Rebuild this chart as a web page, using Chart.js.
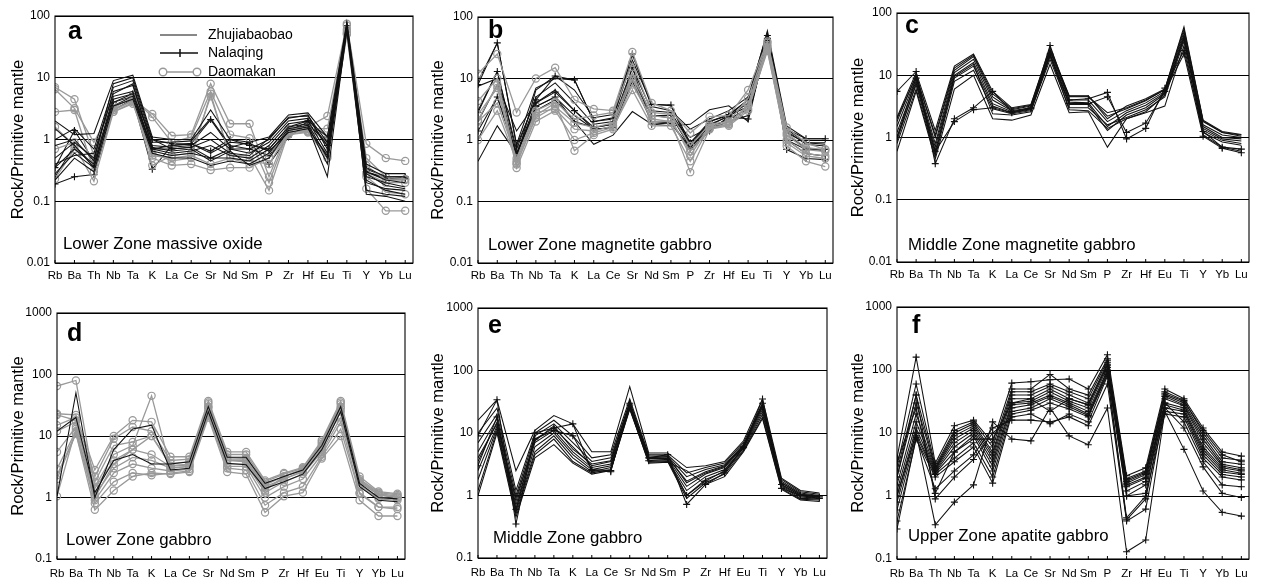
<!DOCTYPE html>
<html>
<head>
<meta charset="utf-8">
<script src="https://cdn.jsdelivr.net/npm/chart.js@4"></script>
<style>
body { margin: 0; background: #fff; }
#wrap { position: relative; width: 1261px; height: 579px; }
canvas { position: absolute; }
</style>
</head>
<body>
<div id="wrap">
  <canvas id="pa" width="420" height="290" style="left:0;top:0"></canvas>
  <canvas id="pb" width="420" height="290" style="left:420px;top:0"></canvas>
  <canvas id="pc" width="420" height="290" style="left:840px;top:0"></canvas>
  <canvas id="pd" width="420" height="290" style="left:0;top:290px"></canvas>
  <canvas id="pe" width="420" height="290" style="left:420px;top:290px"></canvas>
  <canvas id="pf" width="420" height="290" style="left:840px;top:290px"></canvas>
</div>
<script>
// element order on the x axis
var elements = ['Rb', 'Ba', 'Th', 'Nb', 'Ta', 'K', 'La', 'Ce', 'Sr', 'Nd', 'Sm', 'P', 'Zr', 'Hf', 'Eu', 'Ti', 'Y', 'Yb', 'Lu'];
var yTicksUpper = [0.01, 0.1, 1, 10, 100];
var yTicksLower = [0.1, 1, 10, 100, 1000];

// a - Lower Zone massive oxide
var aZhujiabaobao = [
  [2.0, 1.2, 1.25, 9, 11, 1.1, 1.0, 1.0, 3.0, 1.0, 0.9, 1.1, 2.5, 2.7, 1.1, 80, 0.4, 0.28, 0.28],
  [1.0, 1.5, 0.7, 7, 9, 0.9, 0.9, 0.95, 2.2, 0.8, 0.7, 1.0, 2.3, 2.4, 0.9, 75, 0.35, 0.25, 0.25],
  [0.5, 0.9, 0.5, 6, 7.5, 0.8, 0.75, 0.8, 1.3, 0.7, 0.6, 0.9, 2.0, 2.2, 0.8, 70, 0.3, 0.22, 0.2],
  [0.35, 0.7, 0.4, 5, 6, 0.7, 0.6, 0.65, 0.8, 0.55, 0.5, 0.8, 1.8, 2.0, 0.6, 65, 0.25, 0.2, 0.17],
  [0.28, 0.6, 0.35, 4, 5, 0.65, 0.55, 0.6, 0.5, 0.5, 0.45, 0.7, 1.6, 1.8, 0.5, 60, 0.2, 0.16, 0.15],
  [0.22, 0.5, 0.3, 3.5, 4.5, 0.6, 0.5, 0.5, 0.38, 0.45, 0.4, 0.6, 1.5, 1.7, 0.4, 58, 0.15, 0.13, 0.12],
  [0.8, 1.0, 0.45, 8, 10, 1.0, 0.7, 0.75, 1.0, 0.6, 0.55, 1.05, 2.2, 2.5, 0.7, 72, 0.13, 0.12, 0.1],
  [0.4, 0.55, 0.6, 5.5, 8, 0.75, 0.65, 0.7, 0.45, 0.65, 0.38, 0.5, 1.4, 1.6, 0.25, 62, 0.28, 0.18, 0.16],
  [1.5, 0.8, 0.35, 4.5, 5.5, 0.7, 0.8, 0.85, 0.6, 0.9, 0.85, 0.65, 1.3, 1.5, 0.55, 68, 0.22, 0.15, 0.13]
];
var aNalaqing = [
  [0.19, 0.25, 0.27, 3.0, 4.5, 0.33, 0.8, 0.85, 2.1, 0.75, 0.9, 0.4, 1.1, 1.8, 0.9, 70, 0.3, 0.24, 0.24],
  [0.35, 1.4, 0.45, 4.0, 5.5, 1.0, 0.85, 0.85, 0.65, 1.0, 0.8, 0.7, 1.6, 2.0, 1.1, 65, 0.33, 0.25, 0.25],
  [0.25, 0.8, 0.38, 3.5, 5.0, 0.7, 0.7, 0.75, 0.5, 0.7, 0.7, 0.55, 1.4, 1.9, 0.8, 62, 0.3, 0.23, 0.23]
];
var aDaomakan = [
  [6.5, 3.2, 0.9, 3.5, 4.5, 2.6, 1.15, 1.2, 8.0, 1.8, 1.8, 0.25, 1.5, 1.6, 2.4, 75, 0.85, 0.5, 0.45],
  [7.0, 4.5, 0.55, 3.2, 4.8, 2.3, 0.9, 1.1, 6.0, 1.2, 1.05, 0.2, 1.4, 1.5, 1.5, 70, 0.5, 0.25, 0.23],
  [2.8, 3.0, 0.3, 3.0, 4.2, 0.38, 0.55, 0.6, 5.0, 0.55, 0.55, 0.15, 1.3, 1.4, 1.0, 60, 0.25, 0.14, 0.13],
  [1.6, 0.8, 0.21, 2.8, 4.0, 0.5, 0.38, 0.4, 0.32, 0.35, 0.35, 0.5, 1.2, 1.3, 0.5, 52, 0.16, 0.07, 0.07],
  [0.7, 0.9, 0.5, 3.0, 4.3, 0.6, 0.45, 0.5, 5.5, 0.5, 0.45, 0.4, 1.3, 1.35, 0.6, 55, 0.38, 0.22, 0.22],
  [0.23, 0.7, 0.4, 2.8, 3.8, 0.55, 0.5, 0.55, 0.4, 0.5, 0.4, 0.6, 1.2, 1.35, 0.55, 50, 0.28, 0.2, 0.2]
];

// b - Lower Zone magnetite gabbro
var bZhujiabaobao = [
  [0.45, 1.7, 0.6, 3.0, 4.5, 2.0, 0.85, 1.2, 2.9, 1.8, 1.7, 1.8, 3.1, 3.6, 2.0, 45, 1.3, 0.9, 0.9],
  [9.0, 38, 0.85, 7.0, 10, 9.5, 2.0, 2.3, 20, 3.8, 3.6, 0.8, 2.0, 2.5, 4.5, 60, 1.7, 1.05, 1.05],
  [3.0, 13, 0.7, 5.0, 8.5, 4.0, 1.8, 2.0, 15, 3.0, 2.8, 0.9, 1.8, 2.4, 4.0, 50, 1.4, 0.85, 0.8],
  [2.0, 8, 1.4, 4.0, 6.5, 3.0, 1.6, 1.8, 12, 2.5, 2.3, 1.1, 1.6, 2.2, 3.2, 40, 1.2, 0.75, 0.65],
  [1.0, 5, 0.6, 3.5, 5.0, 2.5, 1.5, 1.6, 9, 2.0, 1.9, 0.75, 1.5, 2.0, 2.5, 35, 1.0, 0.6, 0.55],
  [7.5, 10, 0.5, 6.5, 11, 6.5, 2.3, 2.6, 25, 3.5, 3.0, 1.5, 2.2, 3.0, 5.0, 55, 1.5, 0.9, 0.85]
];
var bNalaqing = [
  [8.0, 38, 0.8, 4.5, 11, 9.5, 2.0, 2.2, 25, 3.8, 3.7, 0.9, 2.0, 2.6, 4.5, 50, 1.5, 1.05, 1.05],
  [2.8, 13, 0.6, 4.0, 6.0, 3.0, 1.5, 1.6, 15, 1.8, 1.9, 0.7, 1.4, 2.4, 2.2, 45, 0.7, 0.5, 0.48],
  [1.4, 5, 0.55, 3.5, 5.0, 2.0, 1.6, 1.8, 10, 2.5, 2.5, 0.75, 1.7, 2.5, 3.5, 42, 1.0, 0.7, 0.7]
];
var bDaomakan = [
  [12, 25, 2.8, 10, 15, 4.5, 3.2, 3.0, 27, 4.0, 3.0, 1.3, 2.4, 2.5, 6.5, 40, 1.6, 0.9, 0.7],
  [4.3, 10, 0.4, 2.5, 4.0, 0.67, 1.2, 1.5, 8, 2.2, 2.0, 0.3, 1.5, 1.7, 3.0, 30, 0.8, 0.45, 0.37],
  [2.1, 8, 0.35, 2.0, 3.0, 1.0, 1.3, 1.6, 6.5, 1.7, 1.7, 0.45, 1.6, 1.8, 3.2, 28, 0.9, 0.55, 0.5],
  [2.6, 7, 0.42, 2.3, 3.5, 1.9, 1.6, 1.9, 12, 2.5, 2.3, 0.55, 1.7, 1.9, 3.5, 33, 1.2, 0.7, 0.65],
  [1.0, 3, 0.45, 2.8, 3.2, 1.5, 1.4, 1.7, 10, 2.0, 2.0, 0.65, 1.5, 1.8, 3.8, 35, 1.0, 0.6, 0.55],
  [2.0, 4, 0.5, 3.0, 4.2, 2.2, 2.5, 2.8, 18, 2.8, 2.6, 0.8, 1.8, 2.0, 4.8, 38, 1.3, 0.75, 0.7]
];

// c - Middle Zone magnetite gabbro
var cPlain = [
  [2.1, 11, 1.3, 14, 22, 5.5, 3.0, 3.4, 28, 4.7, 4.7, 2.0, 3.2, 4.2, 6.0, 60, 1.9, 1.25, 1.12],
  [1.8, 10, 1.0, 12, 20, 4.5, 2.8, 3.2, 25, 4.5, 4.5, 2.5, 3.0, 4.0, 5.8, 50, 1.8, 1.2, 1.05],
  [1.5, 9, 0.8, 11, 18, 4.0, 2.7, 3.0, 24, 4.0, 4.0, 1.8, 2.7, 3.6, 5.5, 45, 1.6, 1.1, 1.0],
  [1.2, 8, 0.7, 10, 16, 3.5, 2.6, 2.9, 22, 3.7, 3.6, 1.5, 2.5, 3.3, 5.2, 40, 1.5, 1.0, 0.95],
  [1.0, 7, 0.55, 9, 14, 3.2, 2.5, 2.8, 20, 3.4, 3.4, 1.3, 2.3, 3.0, 5.0, 38, 1.4, 0.95, 0.88],
  [0.8, 6, 0.5, 8, 12, 2.9, 2.4, 2.7, 18, 3.0, 3.0, 1.6, 2.1, 2.8, 4.5, 35, 1.3, 0.9, 0.8],
  [0.6, 5.5, 0.45, 6, 10, 2.0, 1.9, 2.3, 15, 2.5, 2.6, 0.7, 2.0, 2.5, 3.2, 30, 1.1, 0.7, 0.6],
  [2.0, 9.5, 1.1, 13, 21, 5.0, 2.9, 3.3, 26, 4.6, 4.6, 2.2, 2.9, 3.9, 5.9, 55, 1.85, 1.2, 1.1],
  [0.9, 7.5, 0.6, 9.5, 15, 2.4, 2.3, 2.6, 21, 2.8, 2.7, 1.4, 2.0, 2.6, 4.8, 42, 1.2, 0.85, 0.75]
];
var cCross = [
  [5.5, 11.5, 0.38, 2.0, 3.0, 5.5, 2.6, 3.0, 30, 4.0, 4.2, 5.3, 0.95, 1.4, 6.2, 25, 1.25, 0.7, 0.65],
  [1.0, 9, 0.6, 1.8, 2.8, 3.0, 2.5, 2.9, 22, 3.5, 3.5, 4.5, 1.2, 1.7, 5.5, 22, 1.05, 0.67, 0.57]
];

// d - Lower Zone gabbro
var dPlain = [
  [1.05, 50, 1.0, 6, 13, 15, 2.8, 3.0, 25, 3.6, 3.4, 1.4, 1.8, 2.4, 6.0, 25, 1.5, 0.9, 0.85],
  [12, 20, 1.2, 4, 5, 3.5, 3.5, 3.8, 30, 4.5, 4.5, 1.7, 2.2, 2.8, 7.0, 30, 1.7, 1.0, 0.95]
];
var dCircle = [
  [65, 80, 1.5, 5, 7, 45, 3.0, 3.2, 30, 4.0, 4.0, 1.5, 2.0, 2.7, 6.5, 28, 1.8, 1.1, 1.0],
  [23, 22, 2.8, 10, 18, 17, 4.6, 4.6, 37, 5.5, 5.5, 1.9, 2.5, 3.1, 8.5, 37, 2.2, 1.25, 1.15],
  [15, 20, 2.2, 9, 14, 12, 4.0, 4.2, 33, 5.0, 5.0, 1.8, 2.4, 3.0, 8.0, 33, 2.0, 1.2, 1.1],
  [12, 17, 1.8, 7, 8, 10, 3.6, 3.8, 30, 4.5, 4.3, 1.6, 2.2, 2.8, 7.0, 30, 1.8, 1.1, 1.0],
  [5.5, 14, 1.4, 4, 6, 5, 3.2, 3.4, 28, 4.0, 3.8, 1.4, 2.0, 2.6, 6.0, 25, 1.6, 1.0, 0.95],
  [2.9, 12, 1.1, 3, 4.5, 4, 3.0, 3.2, 25, 3.5, 3.5, 1.2, 1.8, 2.4, 5.5, 20, 1.5, 0.95, 0.9],
  [2.3, 11, 0.9, 2.5, 3.5, 3, 2.7, 2.9, 23, 3.2, 3.2, 1.0, 1.5, 2.0, 5.0, 17, 1.2, 0.7, 0.7],
  [2.0, 11, 0.63, 1.3, 2.2, 2.5, 2.4, 2.6, 20, 2.6, 2.4, 0.57, 1.05, 1.2, 4.3, 10, 0.9, 0.5, 0.5],
  [1.05, 13, 0.8, 1.8, 2.5, 2.3, 2.5, 2.7, 22, 3.0, 2.8, 0.75, 1.2, 1.5, 4.6, 13, 1.15, 0.7, 0.65],
  [22, 18, 1.0, 3.5, 6, 10, 3.3, 3.5, 35, 4.2, 4.2, 1.3, 2.2, 2.9, 7.5, 35, 1.9, 1.15, 1.05]
];

// e - Middle Zone gabbro
var ePlain = [
  [16, 34, 2.5, 11, 19, 14, 5.0, 5.0, 55, 4.8, 4.8, 2.8, 3.0, 3.5, 7.5, 35, 1.9, 1.2, 1.1],
  [10, 25, 1.2, 10, 16, 9, 4.0, 4.5, 35, 4.5, 4.5, 2.3, 2.8, 3.3, 7.0, 30, 1.8, 1.15, 1.05],
  [7, 20, 1.0, 9, 14, 7, 3.5, 4.0, 30, 4.3, 4.3, 2.0, 2.6, 3.1, 6.5, 28, 1.7, 1.1, 1.0],
  [5, 17, 0.8, 8, 12, 6, 3.0, 3.5, 28, 4.1, 4.1, 1.7, 2.4, 3.0, 6.2, 26, 1.6, 1.05, 0.98],
  [3.5, 15, 0.7, 7, 11, 5, 2.8, 3.2, 27, 3.9, 3.9, 1.4, 2.2, 2.8, 6.0, 24, 1.5, 1.0, 0.95],
  [2.5, 13, 0.6, 6, 10, 4.5, 2.6, 3.0, 26, 3.7, 3.7, 1.2, 2.0, 2.6, 5.7, 22, 1.45, 0.95, 0.9],
  [1.8, 12, 0.55, 5, 9, 4, 2.4, 2.8, 25, 3.5, 3.6, 1.0, 1.8, 2.4, 5.4, 20, 1.4, 0.9, 0.88],
  [1.2, 11, 0.5, 4.5, 8, 3.5, 2.3, 2.6, 24, 3.4, 3.5, 0.9, 1.6, 2.2, 5.2, 18, 1.3, 0.87, 0.85],
  [1.0, 10, 0.45, 4, 6.5, 3.3, 2.2, 2.5, 25, 3.3, 3.4, 2.5, 1.5, 2.0, 5.0, 17, 1.25, 0.85, 0.8],
  [4, 14, 0.9, 7.5, 13, 5.5, 3.2, 3.6, 32, 4.0, 4.2, 1.6, 2.3, 2.9, 6.3, 27, 1.6, 1.05, 0.97]
];
var eCross = [
  [9, 34, 0.35, 10, 12, 14, 2.5, 2.4, 30, 4.0, 4.5, 0.72, 1.5, 2.3, 6.0, 35, 1.5, 1.0, 0.95],
  [3, 18, 0.6, 8, 11, 9, 2.6, 2.5, 28, 3.6, 3.8, 1.0, 1.7, 2.5, 5.8, 30, 1.3, 1.0, 0.9]
];

// f - Upper Zone apatite gabbro
var fCross = [
  [4.0, 160, 3.3, 13, 16, 7, 62, 65, 70, 72, 50, 175, 2.1, 2.8, 50, 35, 12, 5.0, 4.3],
  [3.0, 60, 3.0, 11, 15, 6, 50, 50, 85, 50, 40, 150, 1.9, 2.5, 45, 33, 10, 4.0, 3.7],
  [2.5, 40, 2.8, 10, 14, 5, 45, 45, 60, 45, 35, 140, 1.8, 2.4, 40, 30, 9, 3.5, 3.2],
  [2.0, 30, 2.7, 9, 13, 4.5, 40, 40, 55, 40, 30, 130, 1.7, 2.3, 38, 28, 8, 3.2, 2.8],
  [1.5, 20, 2.6, 8, 12, 4, 35, 35, 50, 35, 28, 120, 1.6, 2.2, 35, 27, 7, 3.0, 2.6],
  [1.2, 15, 2.5, 7, 11, 3.5, 30, 32, 45, 32, 25, 110, 1.5, 2.0, 30, 25, 6, 2.8, 2.5],
  [1.0, 12, 2.4, 6, 10, 3, 28, 30, 40, 30, 22, 100, 1.4, 1.9, 28, 23, 5.5, 2.6, 2.3],
  [0.8, 10, 2.3, 5, 9, 2.5, 25, 28, 38, 28, 20, 95, 1.2, 1.7, 25, 22, 5, 2.4, 2.2],
  [0.6, 9, 2.2, 4, 7, 2, 22, 25, 35, 26, 19, 90, 1.0, 1.5, 22, 20, 4.5, 2.2, 2.0],
  [0.4, 8, 2.0, 3.5, 6, 1.6, 20, 23, 30, 24, 18, 85, 0.45, 1.0, 20, 18, 4, 2.0, 1.8],
  [0.3, 8.5, 1.3, 2.5, 4.5, 12, 16, 16, 15, 18, 13, 60, 0.4, 0.62, 25, 12, 2.9, 1.1, 0.95],
  [1.0, 10, 0.35, 0.8, 1.5, 15, 8, 7.5, 25, 9, 6.5, 25, 0.13, 0.2, 22, 5.5, 1.2, 0.55, 0.48],
  [2.0, 40, 0.9, 2.0, 3.8, 10, 18, 20, 14, 20, 15, 80, 0.42, 0.9, 30, 15, 3.5, 1.5, 1.4],
  [3.5, 25, 1.1, 5, 8, 8, 30, 35, 22, 35, 28, 120, 1.0, 1.1, 42, 32, 11, 4.5, 3.5]
];

var FONT = "'Liberation Sans', Arial, Helvetica, sans-serif";
var GREY = '#999999';

var plainStyle = { borderColor: '#111', borderWidth: 1.05, pointRadius: 0 };
var crossStyle = { borderColor: '#111', borderWidth: 1.05, pointStyle: 'cross', pointRadius: 3.5,
  pointBorderColor: '#111', pointBorderWidth: 1.1 };
var circleStyle = { borderColor: GREY, borderWidth: 1.3, pointStyle: 'circle', pointRadius: 3.6,
  pointBorderColor: GREY, pointBackgroundColor: 'rgba(0,0,0,0)', pointBorderWidth: 1.2 };

function lines(rows, style) {
  return rows.map(function (r) {
    return Object.assign({ data: r.map(function (v, i) { return { x: i, y: v }; }), tension: 0, fill: false }, style);
  });
}

var panels = [
  { id: 'pa', letter: 'a', label: 'Lower Zone massive oxide', ticks: yTicksUpper,
    box: [55, 413, 16, 263], letterAt: [68, 39], labelAt: [63, 249], labelPad: 6, legend: true,
    sets: lines(aZhujiabaobao, plainStyle).concat(lines(aDaomakan, circleStyle), lines(aNalaqing, crossStyle)) },
  { id: 'pb', letter: 'b', label: 'Lower Zone magnetite gabbro', ticks: yTicksUpper,
    box: [58, 413, 17, 263], letterAt: [68, 38], labelAt: [68, 250], labelPad: 6,
    sets: lines(bDaomakan, circleStyle).concat(lines(bZhujiabaobao, plainStyle), lines(bNalaqing, crossStyle)) },
  { id: 'pc', letter: 'c', label: 'Middle Zone magnetite gabbro', ticks: yTicksUpper,
    box: [57, 409, 13, 262], letterAt: [65, 33], labelAt: [68, 250], labelPad: 6,
    sets: lines(cPlain, plainStyle).concat(lines(cCross, crossStyle)) },
  { id: 'pd', letter: 'd', label: 'Lower Zone gabbro', ticks: yTicksLower,
    box: [57, 405, 23, 269], letterAt: [67, 51], labelAt: [66, 255], labelPad: 8,
    sets: lines(dPlain, plainStyle).concat(lines(dCircle, circleStyle)) },
  { id: 'pe', letter: 'e', label: 'Middle Zone gabbro', ticks: yTicksLower,
    box: [58, 407, 18, 268], letterAt: [68, 43], labelAt: [73, 253], labelPad: 8,
    sets: lines(ePlain, plainStyle).concat(lines(eCross, crossStyle)) },
  { id: 'pf', letter: 'f', label: 'Upper Zone apatite gabbro', ticks: yTicksLower,
    box: [57, 409, 17, 269], letterAt: [72, 43], labelAt: [68, 251], labelPad: 8,
    sets: lines(fCross, crossStyle) }
];

function decor(p) {
  return {
    id: 'decor',
    afterDraw: function (chart) {
      var ctx = chart.ctx, ca = chart.chartArea, xs = chart.scales.x;
      ctx.save();
      ctx.strokeStyle = '#000';
      ctx.lineWidth = 1.1;
      ctx.strokeRect(ca.left, ca.top, ca.right - ca.left, ca.bottom - ca.top);
      // small inward ticks along the bottom axis
      ctx.lineWidth = 1;
      ctx.beginPath();
      elements.forEach(function (e, i) {
        var x = xs.getPixelForValue(i);
        ctx.moveTo(x, ca.bottom); ctx.lineTo(x, ca.bottom - 3);
      });
      ctx.stroke();
      ctx.fillStyle = '#000';
      ctx.textBaseline = 'alphabetic';
      ctx.textAlign = 'left';
      ctx.font = 'bold 25px ' + FONT;
      ctx.fillText(p.letter, p.letterAt[0], p.letterAt[1]);
      ctx.font = '16.8px ' + FONT;
      ctx.fillText(p.label, p.labelAt[0], p.labelAt[1]);
      if (p.legend) {
        ctx.font = '14px ' + FONT;
        ctx.textBaseline = 'middle';
        var rows = [['Zhujiabaobao', 35], ['Nalaqing', 53], ['Daomakan', 72]];
        rows.forEach(function (r) { ctx.fillText(r[0], 208, r[1]); });
        ctx.lineWidth = 1;
        ctx.strokeStyle = '#111';
        ctx.beginPath(); ctx.moveTo(160, 35); ctx.lineTo(197, 35); ctx.stroke();
        ctx.lineWidth = 1.5;
        ctx.beginPath(); ctx.moveTo(160, 53); ctx.lineTo(198, 53);
        ctx.moveTo(180, 49); ctx.lineTo(180, 57); ctx.stroke();
        ctx.strokeStyle = GREY;
        ctx.lineWidth = 1.4;
        ctx.beginPath(); ctx.moveTo(160, 72); ctx.lineTo(200, 72); ctx.stroke();
        ctx.fillStyle = '#fff';
        [163, 197].forEach(function (x) {
          ctx.beginPath(); ctx.arc(x, 72, 3.8, 0, Math.PI * 2); ctx.fill(); ctx.stroke();
        });
      }
      ctx.restore();
    }
  };
}

panels.forEach(function (p) {
  new Chart(p.id, {
    type: 'line',
    data: { datasets: p.sets },
    plugins: [decor(p)],
    options: {
      responsive: false,
      animation: false,
      events: [],
      layout: { padding: { left: 0, right: 420 - p.box[1], top: p.box[2], bottom: 0 } },
      plugins: { legend: { display: false }, tooltip: { enabled: false } },
      scales: {
        x: {
          type: 'linear', min: 0, max: 18.4,
          afterBuildTicks: function (s) { s.ticks = elements.map(function (e, i) { return { value: i }; }); },
          afterFit: function (s) { s.height = 290 - p.box[3]; },
          grid: { display: false, drawTicks: false },
          border: { display: false },
          ticks: {
            autoSkip: false, maxRotation: 0, padding: p.labelPad, color: '#000',
            font: { family: FONT, size: 11.5 },
            callback: function (v) { return elements[v]; }
          }
        },
        y: {
          type: 'logarithmic', min: p.ticks[0], max: p.ticks[p.ticks.length - 1],
          afterBuildTicks: function (s) { s.ticks = p.ticks.map(function (v) { return { value: v }; }); },
          afterFit: function (s) { s.width = p.box[0]; },
          grid: { color: '#000', lineWidth: 1, drawTicks: false },
          border: { display: false },
          ticks: {
            padding: 5, color: '#000',
            font: { family: FONT, size: 12 },
            callback: function (v) { return String(v); }
          },
          title: {
            display: true, text: 'Rock/Primitive mantle', color: '#000',
            font: { family: FONT, size: 16.5 }, padding: { top: 9, bottom: 0 }
          }
        }
      }
    }
  });
});
</script>
</body>
</html>
